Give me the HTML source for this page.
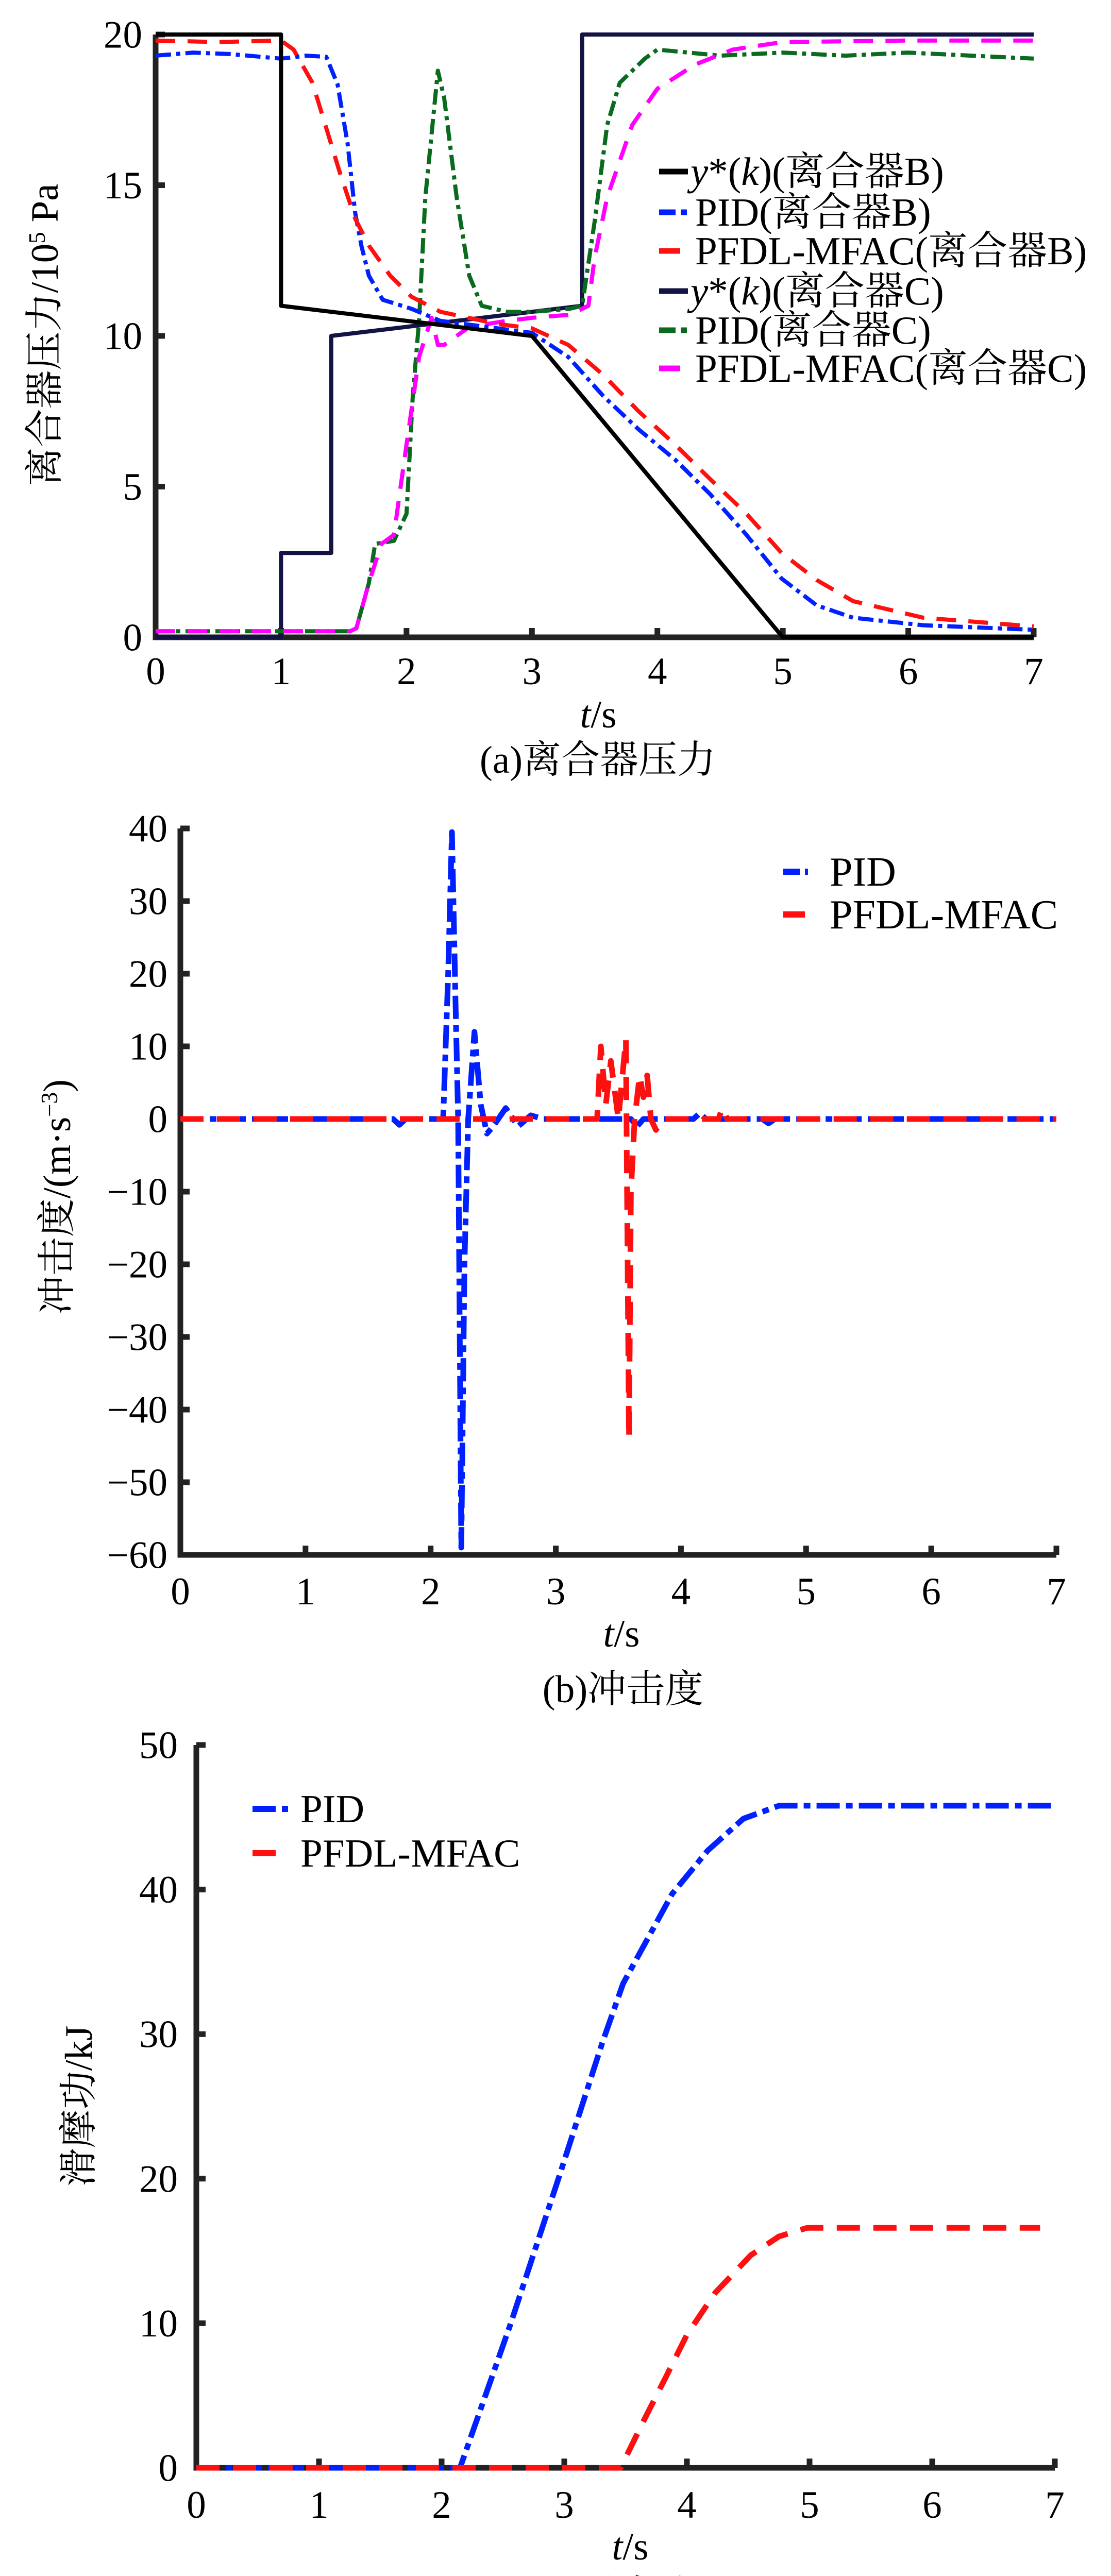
<!DOCTYPE html>
<html><head><meta charset="utf-8">
<style>
html,body{margin:0;padding:0;background:#fff;width:2156px;height:5117px;overflow:hidden;}
svg{display:block;}
text{font-family:"Liberation Serif","Noto Serif CJK SC","Noto Sans CJK SC",serif;fill:#000;}
</style></head>
<body>
<svg id="fig" width="2156" height="5117" viewBox="0 0 2156 5117" xmlns="http://www.w3.org/2000/svg">
<g id="chartA"></g>
<g id="chartB"></g>
<g id="chartC"></g>
</svg>
<script>
// ---- Chart (a) data ----
const aRefB_t = [0, 1, 1, 3, 5, 7];
const aRefB_v = [20, 20, 11, 10, 0, 0];
const aRefC_t = [0, 1, 1, 1.4, 1.4, 3.4, 3.4, 7];
const aRefC_v = [0, 0, 2.8, 2.8, 10, 11, 20, 20];
const aPidB_t = [0, 0.3, 0.6, 1.0, 1.2, 1.36, 1.45, 1.53, 1.59, 1.64, 1.7, 1.81, 2.04, 2.27, 3.0, 3.29, 3.57, 3.85, 4.14, 4.42, 4.71, 4.99, 5.27, 5.56, 6.12, 7];
const aPidB_v = [19.3, 19.4, 19.35, 19.2, 19.3, 19.26, 18.35, 16.4, 14.1, 13, 12, 11.2, 10.9, 10.5, 10.1, 9.3, 8.0, 6.9, 5.9, 4.75, 3.4, 1.95, 1.06, 0.65, 0.4, 0.25];
const aMfB_t = [0, 0.5, 1.0, 1.1, 1.25, 1.36, 1.47, 1.59, 1.7, 1.87, 2.04, 2.27, 2.72, 3.0, 3.29, 3.57, 3.85, 4.14, 4.42, 4.71, 4.99, 5.27, 5.56, 6.12, 7];
const aMfB_v = [19.8, 19.75, 19.8, 19.5, 18.4, 16.9, 15.4, 13.9, 13, 12, 11.3, 10.8, 10.4, 10.25, 9.7, 8.7, 7.5, 6.4, 5.25, 4.1, 2.8, 1.9, 1.2, 0.65, 0.36];
const aPidC_t = [0, 1.55, 1.6, 1.7, 1.75, 1.9, 2.0, 2.05, 2.1, 2.15, 2.25, 2.3, 2.4, 2.5, 2.6, 2.8, 3.0, 3.3, 3.4, 3.5, 3.6, 3.7, 3.9, 4.0, 4.5, 5.0, 5.5, 6.0, 6.5, 7];
const aPidC_v = [0.2, 0.2, 0.3, 1.8, 3.1, 3.2, 4.1, 8, 10.5, 14.6, 18.8, 17.9, 14.6, 12, 11, 10.8, 10.8, 10.9, 11, 13.8, 17, 18.4, 19.2, 19.5, 19.3, 19.4, 19.3, 19.4, 19.3, 19.2];
const aMfC_t = [0, 1.55, 1.6, 1.7, 1.8, 1.9, 2.0, 2.1, 2.2, 2.25, 2.3, 2.5, 2.8, 3.0, 3.3, 3.45, 3.5, 3.6, 3.8, 4.0, 4.3, 4.6, 5.0, 6.0, 7];
const aMfC_v = [0.2, 0.2, 0.3, 1.8, 3.1, 3.4, 6.4, 9.3, 10.6, 9.7, 9.7, 10.3, 10.5, 10.6, 10.7, 11, 12.6, 14.6, 17, 18.2, 19, 19.5, 19.75, 19.8, 19.8];
const aXTicks = [0, 1, 2, 3, 4, 5, 6, 7];
const aYTicks = [0, 5, 10, 15, 20];

// ---- Chart (b) data ----
const bPid_t = [0, 1.7, 1.75, 1.8, 2.1, 2.14, 2.17, 2.2, 2.22, 2.245, 2.27, 2.3, 2.35, 2.4, 2.45, 2.5, 2.6, 2.7, 2.8, 2.9, 3.6, 3.65, 3.7, 4.1, 4.15, 4.2, 4.65, 4.7, 4.75, 7];
const bPid_v = [0, 0, -0.8, 0, 0, 20, 39.5, 15, 0, -59, -20, 0, 12, 2, -2, -1, 1.5, -1, 0.5, 0, 0, -1, 0, 0, 0.8, 0, 0, -0.6, 0, 0];
const bMf_t = [0, 3.33, 3.36, 3.40, 3.44, 3.5, 3.56, 3.585, 3.6, 3.63, 3.67, 3.7, 3.73, 3.76, 3.8, 3.85, 4.3, 4.33, 4.37, 7];
const bMf_v = [0, 0, 10, 2, 8, 0, 11, -44, -10, 0, 6, 3, 6, 0, -1.5, 0, 0, 1.5, 0, 0];
const bXTicks = [0, 1, 2, 3, 4, 5, 6, 7];
const bYTicks = [-60, -50, -40, -30, -20, -10, 0, 10, 20, 30, 40];

// ---- Chart (c) data ----
const cPid_t = [0, 2.15, 2.56, 2.96, 3.31, 3.48, 3.88, 4.17, 4.46, 4.75, 7];
const cPid_v = [0, 0, 9.9, 20.2, 29.4, 33.5, 39.7, 42.7, 44.9, 45.8, 45.8];
const cMf_t = [0, 3.46, 3.65, 3.83, 4.0, 4.23, 4.52, 4.75, 4.98, 6.88];
const cMf_v = [0, 0, 3.3, 6.3, 9.2, 12.1, 14.7, 16.0, 16.6, 16.6];
const cXTicks = [0, 1, 2, 3, 4, 5, 6, 7];
const cYTicks = [0, 10, 20, 30, 40, 50];

const NS = "http://www.w3.org/2000/svg";
function mk(parent, tag, attrs) {
  const e = document.createElementNS(NS, tag);
  for (const k in attrs) e.setAttribute(k, attrs[k]);
  parent.appendChild(e);
  return e;
}
function scale(d0, d1, r0, r1) { return v => r0 + (v - d0) * (r1 - r0) / (d1 - d0); }
function pathFrom(ts, vs, sx, sy) {
  let d = "";
  for (let i = 0; i < ts.length; i++) d += (i ? "L" : "M") + sx(ts[i]).toFixed(1) + "," + sy(vs[i]).toFixed(1);
  return d;
}
function axes(g, sx, sy, xt, yt, xmin, xmax, ymin, ymax, xlabY, yAnchorX, fs) {
  const axis = mk(g, "path", {d: "M" + sx(xmin) + "," + sy(ymax) + "L" + sx(xmin) + "," + sy(ymin) + "L" + sx(xmax) + "," + sy(ymin), fill: "none", stroke: "#222", "stroke-width": 11});
  
  
  xt.forEach(v => {
    const t = mk(g, "line", {x1: sx(v), x2: sx(v), y1: sy(ymin), y2: sy(ymin) - 18, stroke: "#222", "stroke-width": 11});
    
    
    const l = mk(g, "text", {x: sx(v), y: xlabY, "font-size": fs, "text-anchor": "middle"});
    
    
    l.textContent = v;
  });
  yt.forEach(v => {
    const t = mk(g, "line", {x1: sx(xmin), x2: sx(xmin) + 18, y1: sy(v), y2: sy(v), stroke: "#222", "stroke-width": 11});
    
    
    const l = mk(g, "text", {x: yAnchorX, y: sy(v) + fs * 0.34, "font-size": fs, "text-anchor": "end"});
    
    
    l.textContent = v < 0 ? "\u2212" + (-v) : v;
  });
}
function series(g, ts, vs, sx, sy, color, dash, w, name) {
  const p = mk(g, "path", {d: pathFrom(ts, vs, sx, sy), fill: "none", stroke: color, "stroke-width": w, "stroke-linejoin": "round"});
  if (dash) p.setAttribute("stroke-dasharray", dash);
  
  
}
function legend(g, x1, x2, tx, y, color, dash, w, html, fs, name) {
  const l = mk(g, "line", {x1: x1, x2: x2, y1: y, y2: y, stroke: color, "stroke-width": w});
  if (dash) l.setAttribute("stroke-dasharray", dash);
  
  
  const t = mk(g, "text", {x: tx, y: y + fs * 0.34, "font-size": fs});
  
  
  t.innerHTML = html;
}
function label(g, x, y, fs, html, name, rot, anchor) {
  const t = mk(g, "text", {x: x, y: y, "font-size": fs, "text-anchor": anchor || "middle"});
  if (rot) t.setAttribute("transform", "rotate(-90 " + x + " " + y + ")");
  
  
  t.innerHTML = html;
}

// ---- Chart A ----
(function () {
  const g = document.getElementById("chartA");
  const sx = scale(0, 7, 302, 2006), sy = scale(0, 20, 1237, 67);
  axes(g, sx, sy, aXTicks, aYTicks, 0, 7, 0, 20, 1328, 276, 75);
  series(g, aRefC_t, aRefC_v, sx, sy, "#141444", null, 8, "ref-clutch-c-line");
  series(g, aPidC_t, aPidC_v, sx, sy, "#0a6b1e", "30 10 8 10", 8, "pid-clutch-c-line");
  series(g, aMfC_t, aMfC_v, sx, sy, "#ff00ff", "38 24", 8, "pfdl-clutch-c-line");
  series(g, aPidB_t, aPidB_v, sx, sy, "#0020ff", "30 10 8 10", 8, "pid-clutch-b-line");
  series(g, aMfB_t, aMfB_v, sx, sy, "#ff1010", "38 24", 8, "pfdl-clutch-b-line");
  series(g, aRefB_t, aRefB_v, sx, sy, "#000", null, 8, "ref-clutch-b-line");
  const fs = 77;
  legend(g, 1279, 1335, 1340, 333, "#000", null, 11, '<tspan font-style="italic">y</tspan>*(<tspan font-style="italic">k</tspan>)(离合器B)', fs, "legend-ref-b");
  legend(g, 1279, 1335, 1349, 412, "#0020ff", "32 10 12 10", 11, 'PID(离合器B)', fs, "legend-pid-b");
  legend(g, 1279, 1320, 1349, 487, "#ff1010", null, 11, 'PFDL-MFAC(离合器B)', fs, "legend-pfdl-b");
  legend(g, 1279, 1335, 1340, 565, "#141444", null, 11, '<tspan font-style="italic">y</tspan>*(<tspan font-style="italic">k</tspan>)(离合器C)', fs, "legend-ref-c");
  legend(g, 1279, 1335, 1349, 641, "#0a6b1e", "32 10 12 10", 11, 'PID(离合器C)', fs, "legend-pid-c");
  legend(g, 1279, 1320, 1349, 715, "#ff00ff", null, 11, 'PFDL-MFAC(离合器C)', fs, "legend-pfdl-c");
  label(g, 112, 650, 75, '离合器压力/10<tspan baseline-shift="super" font-size="45">5</tspan> Pa', "y-axis-title", true);
  label(g, 1161, 1412, 75, '<tspan font-style="italic">t</tspan>/s', "x-axis-title");
  label(g, 1160, 1500, 75, '(a)离合器压力', "caption-a");
})();

// ---- Chart B ----
(function () {
  const g = document.getElementById("chartB");
  const sx = scale(0, 7, 350, 2050), sy = scale(-60, 40, 3018, 1608);
  axes(g, sx, sy, bXTicks, bYTicks, 0, 7, -60, 40, 3114, 325, 75);
  series(g, bPid_t, bPid_v, sx, sy, "#0020ff", "45 12 13 12", 11, "pid-jerk-line");
  series(g, bMf_t, bMf_v, sx, sy, "#ff1010", "45 26", 11, "pfdl-jerk-line");
  legend(g, 1520, 1568, 1610, 1692, "#0020ff", "32 10 12 10", 12, 'PID', 80, "legend-pid");
  legend(g, 1520, 1562, 1610, 1775, "#ff1010", null, 12, 'PFDL-MFAC', 80, "legend-pfdl");
  label(g, 136, 2323, 75, '冲击度/(m·s<tspan baseline-shift="super" font-size="45">−3</tspan>)', "y-axis-title", true);
  label(g, 1206, 3196, 75, '<tspan font-style="italic">t</tspan>/s', "x-axis-title");
  label(g, 1209, 3304, 75, '(b)冲击度', "caption-b");
})();

// ---- Chart C ----
(function () {
  const g = document.getElementById("chartC");
  const sx = scale(0, 7, 381, 2047), sy = scale(0, 50, 4790, 3387);
  axes(g, sx, sy, cXTicks, cYTicks, 0, 7, 0, 50, 4887, 345, 75);
  series(g, cPid_t, cPid_v, sx, sy, "#0020ff", "45 12 13 12", 11, "pid-friction-line");
  series(g, cMf_t, cMf_v, sx, sy, "#ff1010", "45 26", 11, "pfdl-friction-line");
  legend(g, 490, 559, 583, 3511, "#0020ff", "45 12 13 12", 12, 'PID', 77, "legend-pid");
  legend(g, 490, 535, 583, 3597, "#ff1010", null, 12, 'PFDL-MFAC', 77, "legend-pfdl");
  label(g, 178, 4088, 75, '滑摩功/kJ', "y-axis-title", true);
  label(g, 1223, 4968, 75, '<tspan font-style="italic">t</tspan>/s', "x-axis-title");
  label(g, 1195, 5062, 75, '(c)滑摩功', "caption-c");
})();
</script>
</body></html>
